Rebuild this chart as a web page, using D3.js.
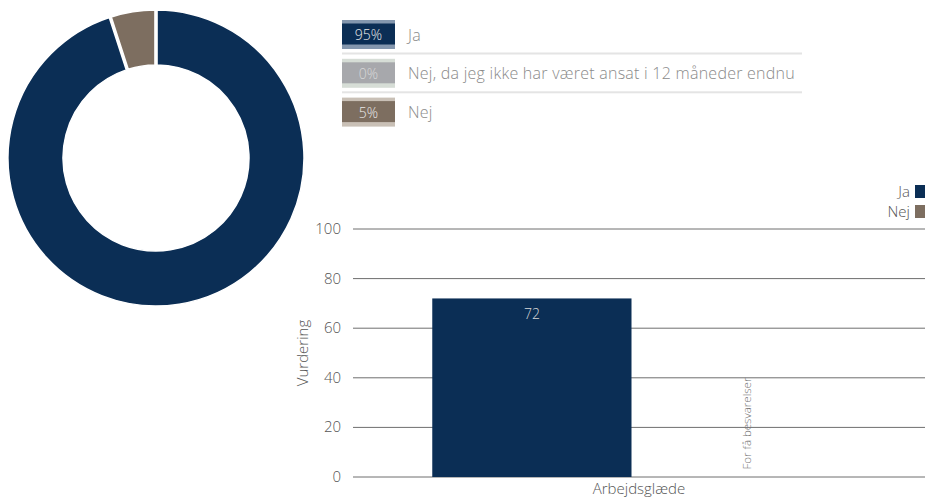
<!DOCTYPE html>
<html><head><meta charset="utf-8">
<script src="https://cdn.jsdelivr.net/npm/d3@7"></script>
<style>
body{margin:0;background:#fff;}
text{font-family:"Open Sans",sans-serif;font-weight:300;}
</style></head>
<body>
<svg id="c" width="925" height="498"></svg>
<script>
const donutLabels = ["Ja", "Nej, da jeg ikke har været ansat i 12 måneder endnu", "Nej"];
const donutValues = [95, 0, 5];
const donutColors = ["#0b2e55", "#a7a8ac", "#7d6e60"];
const donutStrips = ["#8497ae", "#d6ddd6", "#c9c0b6"];

const barCategories = ["Arbejdsglæde"];
const barSeries = ["Ja", "Nej"];
const barValues = [[72, null]];
const barColors = ["#0b2e55", "#7d6e60"];
const yTicks = [0, 20, 40, 60, 80, 100];
const missingLabel = "For få besvarelser";

const svg = d3.select("#c");

// Donut
const pie = d3.pie().sort(null).value(d => d)(donutValues);
const arc = d3.arc().innerRadius(93).outerRadius(148).padAngle(0.012);
const dg = svg.append("g").attr("transform", "translate(156,158)");
dg.selectAll("path").data(pie.filter(p => p.value > 0)).join("path")
  .attr("d", arc).attr("fill", (d) => donutColors[d.index])
  .attr("stroke", "#fff").attr("stroke-width", 1.5);

// Legend for donut
const lg = svg.append("g");
donutLabels.forEach((lab, i) => {
  const y0 = 20 + i * 38.8;
  const g = lg.append("g").attr("transform", `translate(342,${y0})`);
  g.append("rect").attr("width", 53).attr("height", 29).attr("fill", donutStrips[i]);
  g.append("rect").attr("y", 3.5).attr("width", 53).attr("height", 21).attr("fill", donutColors[i]);
  g.append("text").attr("x", 26.5).attr("y", 20).attr("text-anchor", "middle")
    .attr("font-size", 14).attr("fill", i === 1 ? "#d8d8d8" : "#e8e8e8").text(donutValues[i] + "%");
  g.append("text").attr("x", 66).attr("y", 20.5).attr("font-size", 16).attr("letter-spacing", 0.25)
    .attr("fill", "#8a8a8a").text(lab);
  if (i < 2) {
    lg.append("rect").attr("x", 342).attr("y", y0 + 32.5).attr("width", 460).attr("height", 2).attr("fill", "#e4e4e4");
  }
});

// Bar chart
const x0 = d3.scaleBand().domain(barCategories).range([353, 925]).paddingInner(0).paddingOuter(0);
const x1 = d3.scaleBand().domain(barSeries).range([0, x0.bandwidth()]).paddingInner(0.07).paddingOuter(0.37);
const y = d3.scaleLinear().domain([0, 100]).range([477, 229]);

const grid = svg.append("g");
grid.selectAll("line").data(yTicks).join("line")
  .attr("x1", 353).attr("x2", 925).attr("y1", d => y(d)).attr("y2", d => y(d))
  .attr("stroke", "#6e6e6e").attr("stroke-width", 1);
grid.selectAll("text").data(yTicks).join("text")
  .attr("x", 341).attr("y", d => y(d) + 5).attr("text-anchor", "end")
  .attr("font-size", 15).attr("fill", "#555").text(d => d);

svg.append("text").attr("transform", `translate(308,${y(50)}) rotate(-90)`)
  .attr("text-anchor", "middle").attr("font-size", 15).attr("fill", "#555").text("Vurdering");

barCategories.forEach((cat, ci) => {
  const g = svg.append("g").attr("transform", `translate(${x0(cat)},0)`);
  barSeries.forEach((s, si) => {
    const v = barValues[ci][si];
    const bx = x1(s);
    if (v == null) {
      g.append("text").attr("transform", `translate(${bx + x1.bandwidth() / 2 + 5},${y(3)}) rotate(-90)`)
        .attr("font-size", 11.5).attr("fill", "#777").text(missingLabel);
    } else {
      g.append("rect").attr("x", bx).attr("y", y(v)).attr("width", x1.bandwidth())
        .attr("height", y(0) - y(v)).attr("fill", barColors[si]);
      g.append("text").attr("x", bx + x1.bandwidth() / 2).attr("y", y(v) + 21)
        .attr("text-anchor", "middle").attr("font-size", 14).attr("fill", "#d8d8d8").text(v);
    }
  });
  svg.append("text").attr("x", x0(cat) + x0.bandwidth() / 2).attr("y", 494)
    .attr("text-anchor", "middle").attr("font-size", 15).attr("fill", "#555").text(cat);
});

// Bar legend
barSeries.forEach((s, i) => {
  const yy = 192 + i * 20;
  svg.append("rect").attr("x", 915).attr("y", yy - 7).attr("width", 10).attr("height", 13).attr("fill", barColors[i]);
  svg.append("text").attr("x", 910).attr("y", yy + 5).attr("text-anchor", "end")
    .attr("font-size", 15).attr("fill", "#555").text(s);
});
</script>
</body></html>
